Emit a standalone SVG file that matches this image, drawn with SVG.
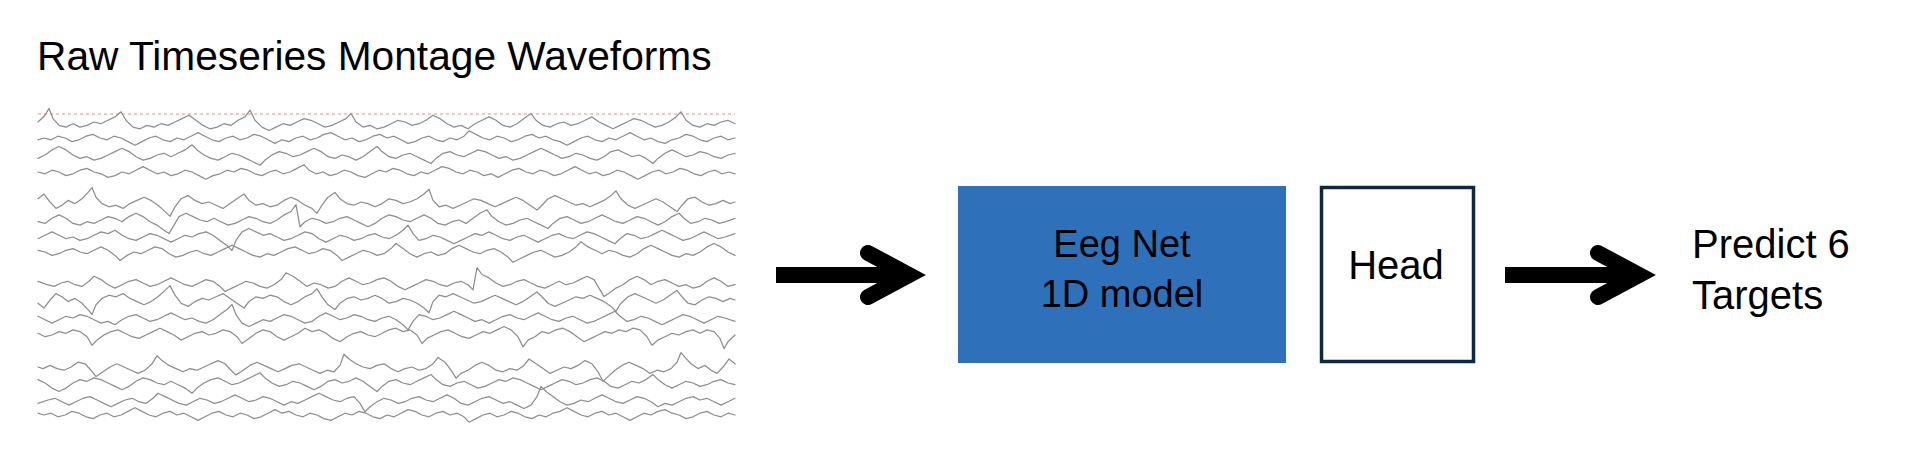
<svg xmlns="http://www.w3.org/2000/svg" xmlns:xlink="http://www.w3.org/1999/xlink" width="1920" height="472" viewBox="0 0 1920 472">
<style>
.t{font-family:"Liberation Sans",Arial,sans-serif;fill:#000}
.w{fill:none;stroke:#8e8e8e;stroke-width:1.25;stroke-linejoin:round;stroke-linecap:round;vector-effect:non-scaling-stroke}
.sh{stroke:#000;stroke-width:16;fill:none}
.hd{stroke:#000;stroke-width:16;fill:none;stroke-linecap:round;stroke-linejoin:miter;stroke-miterlimit:10}
</style>
<defs>
<path id="w1" class="w" d="M0,0 L7,-4 11,-8 15,-2 21,2 28,3 35,1 42,3 49,2 56,0 63,1 70,-1 77,-3 83,-6 88,-1 95,3 102,4 109,2 116,3 123,1 130,2 137,0 144,-2 151,-4 158,-1 165,2 172,4 179,3 186,1 193,2 200,-1 207,-3 212,-7 217,-1 224,3 231,5 238,3 245,1 252,2 259,0 266,-2 273,-1 280,1 287,3 294,2 301,0 308,-2 313,-5 318,0 325,3 332,2 339,4 346,3 353,1 360,-1 367,0 374,2 381,1 388,-1 395,-4 402,-2 409,1 416,3 423,2 430,4 437,1 444,-1 451,-3 458,-1 465,2 472,3 479,1 486,-2 493,-5 498,-1 505,2 512,3 519,1 526,0 533,2 540,1 547,-1 554,-3 561,0 568,2 575,4 582,2 589,0 596,-2 603,-1 610,1 617,3 624,2 631,0 638,-3 643,-6 648,-1 655,2 662,3 669,1 676,2 683,0 690,-1 697,1"/>
<path id="w2" class="w" d="M0,1 L7,2 14,-1 21,-3 28,-1 35,2 42,3 49,1 56,2 63,0 70,-2 77,-1 84,1 91,-2 98,-4 105,-2 112,1 119,3 126,6 131,8 136,3 141,-2 148,-4 155,-2 162,0 169,1 176,-1 183,1 190,3 197,2 204,0 211,-2 218,-1 225,1 232,2 239,0 246,-3 253,-5 258,-9 262,4 267,1 274,-1 281,0 288,2 295,1 302,-1 309,-2 316,0 323,2 330,4 337,2 344,-1 351,-3 358,-2 365,0 372,1 379,-1 386,-3 393,-1 400,2 407,3 414,1 421,0 428,2 435,-1 442,-4 449,-6 454,-2 461,1 468,3 475,2 482,0 489,-1 496,1 503,3 510,5 515,2 522,-1 529,-2 536,0 543,2 550,1 557,-1 564,-3 571,-1 578,1 585,2 592,0 599,-2 606,-1 613,1 620,3 627,1 634,-2 641,-4 646,-1 653,2 660,1 667,-1 674,0 681,2 688,1 697,-1"/>
<path id="w3" class="w" d="M0,-2 L6,-5 12,0 18,4 24,2 30,-1 37,1 44,-2 50,-6 54,-9 58,-3 64,1 71,3 78,2 85,4 92,1 99,-1 106,-3 113,-1 120,2 127,6 132,9 137,3 143,-2 150,-4 157,-1 164,1 171,0 178,2 185,4 192,1 199,-2 206,-5 211,-1 218,2 225,1 232,3 239,2 246,-1 253,-3 260,-1 267,2 274,4 279,7 284,2 290,-3 297,-6 302,-2 309,1 316,2 323,0 330,1 337,3 344,1 351,-2 358,-1 365,1 372,0 379,-2 386,-5 391,-8 395,-1 401,3 408,2 415,4 422,2 429,0 436,-2 443,-1 450,1 457,3 464,1 471,-1 478,-3 485,-1 492,2 499,5 504,2 510,-2 517,-4 524,-2 531,0 538,2 545,1 552,3 559,1 566,-1 573,-4 578,-7 583,-2 590,2 597,4 604,2 611,0 618,-2 625,0 632,3 639,6 644,2 650,-2 657,-3 664,0 671,2 678,1 685,-1 692,1 697,0"/>
<path id="w4" class="w" d="M0,0 L7,1 14,-1 21,0 28,2 35,1 42,-1 49,-2 56,0 63,1 70,3 77,2 84,0 91,1 98,-1 105,-3 112,-1 119,1 126,0 133,2 140,1 147,-1 154,0 161,2 168,4 175,2 182,1 189,-1 196,0 203,-2 210,-1 217,1 224,2 231,0 238,-1 245,1 252,0 259,-2 266,-4 271,-1 278,1 285,0 292,2 299,1 306,-1 313,0 320,2 327,3 334,1 341,-1 348,0 355,-2 362,-1 369,1 376,2 383,0 390,1 397,-1 404,-3 411,-2 418,0 425,1 432,-1 439,0 446,2 453,1 460,3 467,1 474,-1 481,-2 488,0 495,1 502,-1 509,0 516,2 523,1 530,-1 537,-3 544,-1 551,1 558,0 565,2 572,1 579,-1 586,0 593,2 600,4 607,2 614,0 621,-1 628,1 635,0 642,-2 649,-1 656,1 663,2 670,0 677,-1 684,1 691,0 697,1"/>
<path id="w5" class="w" d="M0,2 L7,0 14,-3 21,-5 28,-3 35,0 42,2 49,1 56,3 63,2 70,0 77,-2 84,-4 91,-2 98,1 105,3 112,2 119,0 126,-1 133,1 140,-1 147,-3 154,-6 159,-3 166,0 173,2 180,3 187,1 194,-1 201,0 208,2 215,4 222,6 227,3 234,0 241,-2 248,-1 255,1 262,0 269,-2 276,-4 283,-2 290,1 297,2 304,0 311,1 318,3 325,1 332,-2 339,-5 344,-2 351,1 358,2 365,0 372,-1 379,1 386,3 393,5 398,2 405,-1 412,-2 419,0 426,1 433,-1 440,-3 447,-2 454,0 461,2 468,1 475,3 482,2 489,0 496,-2 503,-4 510,-2 517,0 524,2 531,1 538,-1 545,0 552,2 559,3 566,1 573,-2 580,-3 587,-1 594,1 601,0 608,2 615,5 620,2 627,-1 634,-3 641,-1 648,1 655,0 662,-2 669,-1 676,1 683,2 690,0 697,-1"/>
<path id="w6" class="w" d="M0,-1 L7,1 14,3 21,1 28,-1 35,0 42,-2 49,-1 56,1 63,3 70,2 77,4 84,1 91,-1 98,-2 105,0 112,2 119,1 126,-1 133,-3 140,-1 147,1 154,0 161,2 168,3 175,1 182,-2 189,-5 194,-8 198,-2 204,3 211,5 218,3 225,1 232,2 239,0 246,-2 253,-1 260,1 267,3 274,2 281,-1 288,-3 295,-1 302,1 309,0 316,-2 323,-1 330,1 337,2 344,0 351,-1 358,1 365,4 370,7 375,2 381,-2 388,-1 395,1 402,0 409,-2 416,-4 423,-2 430,0 437,2 444,1 451,3 458,1 465,-1 472,-2 479,0 486,1 493,-1 500,-3 507,-1 514,1 521,2 528,0 535,-1 542,1 549,3 556,2 563,0 570,-2 577,-4 582,-1 589,2 596,1 603,-1 610,0 617,2 624,4 631,2 638,0 645,-2 652,-1 659,1 666,3 673,1 680,-1 687,0 697,2"/>
</defs>

<text class="t" x="37" y="70" font-size="40.7">Raw Timeseries Montage Waveforms</text>

<g id="waveforms">
<line x1="38" y1="114" x2="735" y2="114" stroke="#f28b82" stroke-width="1" stroke-dasharray="3,3"/>
<use xlink:href="#w1" transform="translate(38,122) scale(1,1.7)"/>
<use xlink:href="#w4" transform="translate(735,138) scale(-1,1.8)"/>
<use xlink:href="#w5" transform="translate(38,155) scale(1,1.7)"/>
<use xlink:href="#w4" transform="translate(38,172) scale(1,1.8)"/>
<use xlink:href="#w3" transform="translate(38,202) scale(1,1.6)"/>
<use xlink:href="#w2" transform="translate(38,220) scale(1,1.7)"/>
<use xlink:href="#w6" transform="translate(38,237) scale(1,-1.7)"/>
<use xlink:href="#w5" transform="translate(735,252) scale(-1,1.7)"/>
<use xlink:href="#w2" transform="translate(735,283) scale(-1,1.7)"/>
<use xlink:href="#w3" transform="translate(38,300) scale(1,-1.6)"/>
<use xlink:href="#w6" transform="translate(38,318) scale(1,1.7)"/>
<use xlink:href="#w1" transform="translate(735,335) scale(-1,-1.7)"/>
<use xlink:href="#w3" transform="translate(735,367) scale(-1,1.6)"/>
<use xlink:href="#w5" transform="translate(38,383) scale(1,-1.7)"/>
<use xlink:href="#w6" transform="translate(735,400) scale(-1,1.7)"/>
<use xlink:href="#w4" transform="translate(735,415) scale(-1,-1.8)"/>
</g>

<g id="eegnet">
<rect x="958" y="186" width="328" height="177" fill="#2E70BA"/>
<text class="t" x="1122" y="257" font-size="38" text-anchor="middle">Eeg Net</text>
<text class="t" x="1122" y="307" font-size="38" text-anchor="middle">1D model</text>
</g>

<g id="head">
<rect x="1321.5" y="187.5" width="152" height="174" fill="#fff" stroke="#0E2841" stroke-width="3.5"/>
<text class="t" x="1396" y="279" font-size="40" text-anchor="middle">Head</text>
</g>

<g id="targets">
<text class="t" x="1692" y="258" font-size="40">Predict 6</text>
<text class="t" x="1692" y="309" font-size="40">Targets</text>
</g>

<g id="connectors">
<line class="sh" x1="776" y1="275" x2="906" y2="275"/>
<path class="hd" d="M868,253 L909,275 L868,297"/>
<line class="sh" x1="1505" y1="275" x2="1636" y2="275"/>
<path class="hd" d="M1598,253 L1639,275 L1598,297"/>
</g>
</svg>
